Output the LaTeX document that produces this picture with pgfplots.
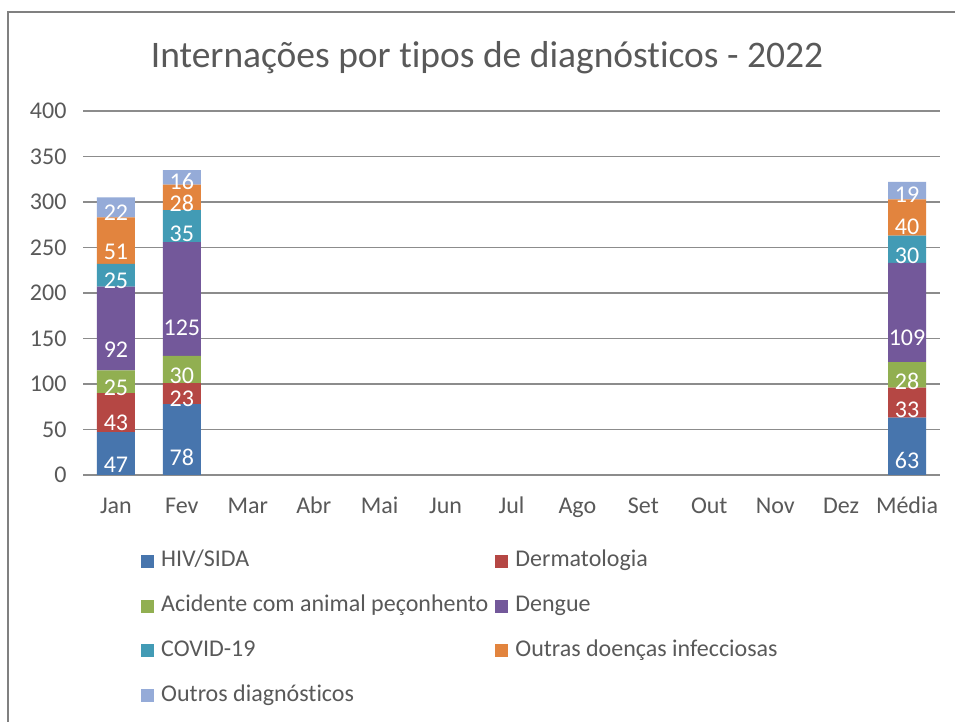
\documentclass[border=0pt]{standalone}
\usepackage{fontspec}
\setmainfont[Ligatures={NoCommon}]{Carlito}
\usepackage{pgfplots}
\pgfplotsset{compat=1.18}
\definecolor{cHIV}{HTML}{4775AD}
\definecolor{cDerm}{HTML}{B54744}
\definecolor{cAcid}{HTML}{91AF51}
\definecolor{cDeng}{HTML}{73589A}
\definecolor{cCovid}{HTML}{429BB5}
\definecolor{cOutD}{HTML}{E2843E}
\definecolor{cOutr}{HTML}{95ABD8}
\definecolor{txtgray}{HTML}{595959}
\definecolor{gridgray}{HTML}{8C8C8C}
\definecolor{framegray}{HTML}{808080}
\begin{document}
\begin{tikzpicture}[x=1pt,y=1pt]
\useasboundingbox (0,0) rectangle (955,722);
\fill[white] (0,0) rectangle (955,722);
\draw[framegray, line width=2.2pt] (8,-20) -- (8,710) -- (980,710);
\node[anchor=base, text=txtgray, font=\fontsize{37.5}{45}\selectfont, inner sep=0pt] at (487,654) {Internações por tipos de diagnósticos - 2022};
\begin{axis}[
  at={(83pt,247pt)}, anchor=south west,
  scale only axis, width=857pt, height=364pt,
  xmin=-0.5, xmax=12.5, ymin=0, ymax=400,
  ybar stacked, bar width=38pt,
  xtick={0,...,12},
  xticklabels={Jan,Fev,Mar,Abr,Mai,Jun,Jul,Ago,Set,Out,Nov,Dez,Média},
  ytick={0,50,...,400},
  ymajorgrids, grid style={gridgray, line width=1.2pt},
  axis line style={draw=none}, major tick length=0pt,
  tick label style={font=\fontsize{24}{29}\selectfont, text=txtgray},
  /pgf/number format/assume math mode=true,
  xticklabel style={anchor=base, yshift=-39pt},
  yticklabel style={anchor=east, xshift=-13pt},
  visualization depends on=rawy \as \rawy,
  nodes near coords={\pgfmathprintnumber[assume math mode=true]{\rawy}},
  every node near coord/.append style={anchor=center, yshift={-0.2275pt*\rawy}, text=white, font=\fontsize{24}{29}\selectfont},
  legend columns=2,
  legend cell align=left,
  legend image code/.code={\draw[#1, draw=none] (0pt,-6.5pt) rectangle (13pt,6.5pt); \path (17pt,0pt);},
  legend style={at={(axis description cs:0.0677,-0.1965)}, anchor=north west, draw=none, fill=none, inner sep=0pt,
    font=\fontsize{24}{29}\selectfont, text=txtgray, row sep=15.8pt,
    /tikz/every even column/.append style={column sep=4pt},
    nodes={inner sep=3pt, text height=17pt, text depth=6pt}},
]
\addplot[fill=cHIV, draw=none] coordinates {(0,47) (1,78) (12,63)};
\addplot[fill=cDerm, draw=none] coordinates {(0,43) (1,23) (12,33)};
\addplot[fill=cAcid, draw=none] coordinates {(0,25) (1,30) (12,28)};
\addplot[fill=cDeng, draw=none] coordinates {(0,92) (1,125) (12,109)};
\addplot[fill=cCovid, draw=none] coordinates {(0,25) (1,35) (12,30)};
\addplot[fill=cOutD, draw=none] coordinates {(0,51) (1,28) (12,40)};
\addplot[fill=cOutr, draw=none] coordinates {(0,22) (1,16) (12,19)};
\legend{HIV/SIDA, Dermatologia, Acidente com animal peçonhento, Dengue, COVID-19, Outras doenças infecciosas, Outros diagnósticos}
\end{axis}
\end{tikzpicture}
\end{document}
